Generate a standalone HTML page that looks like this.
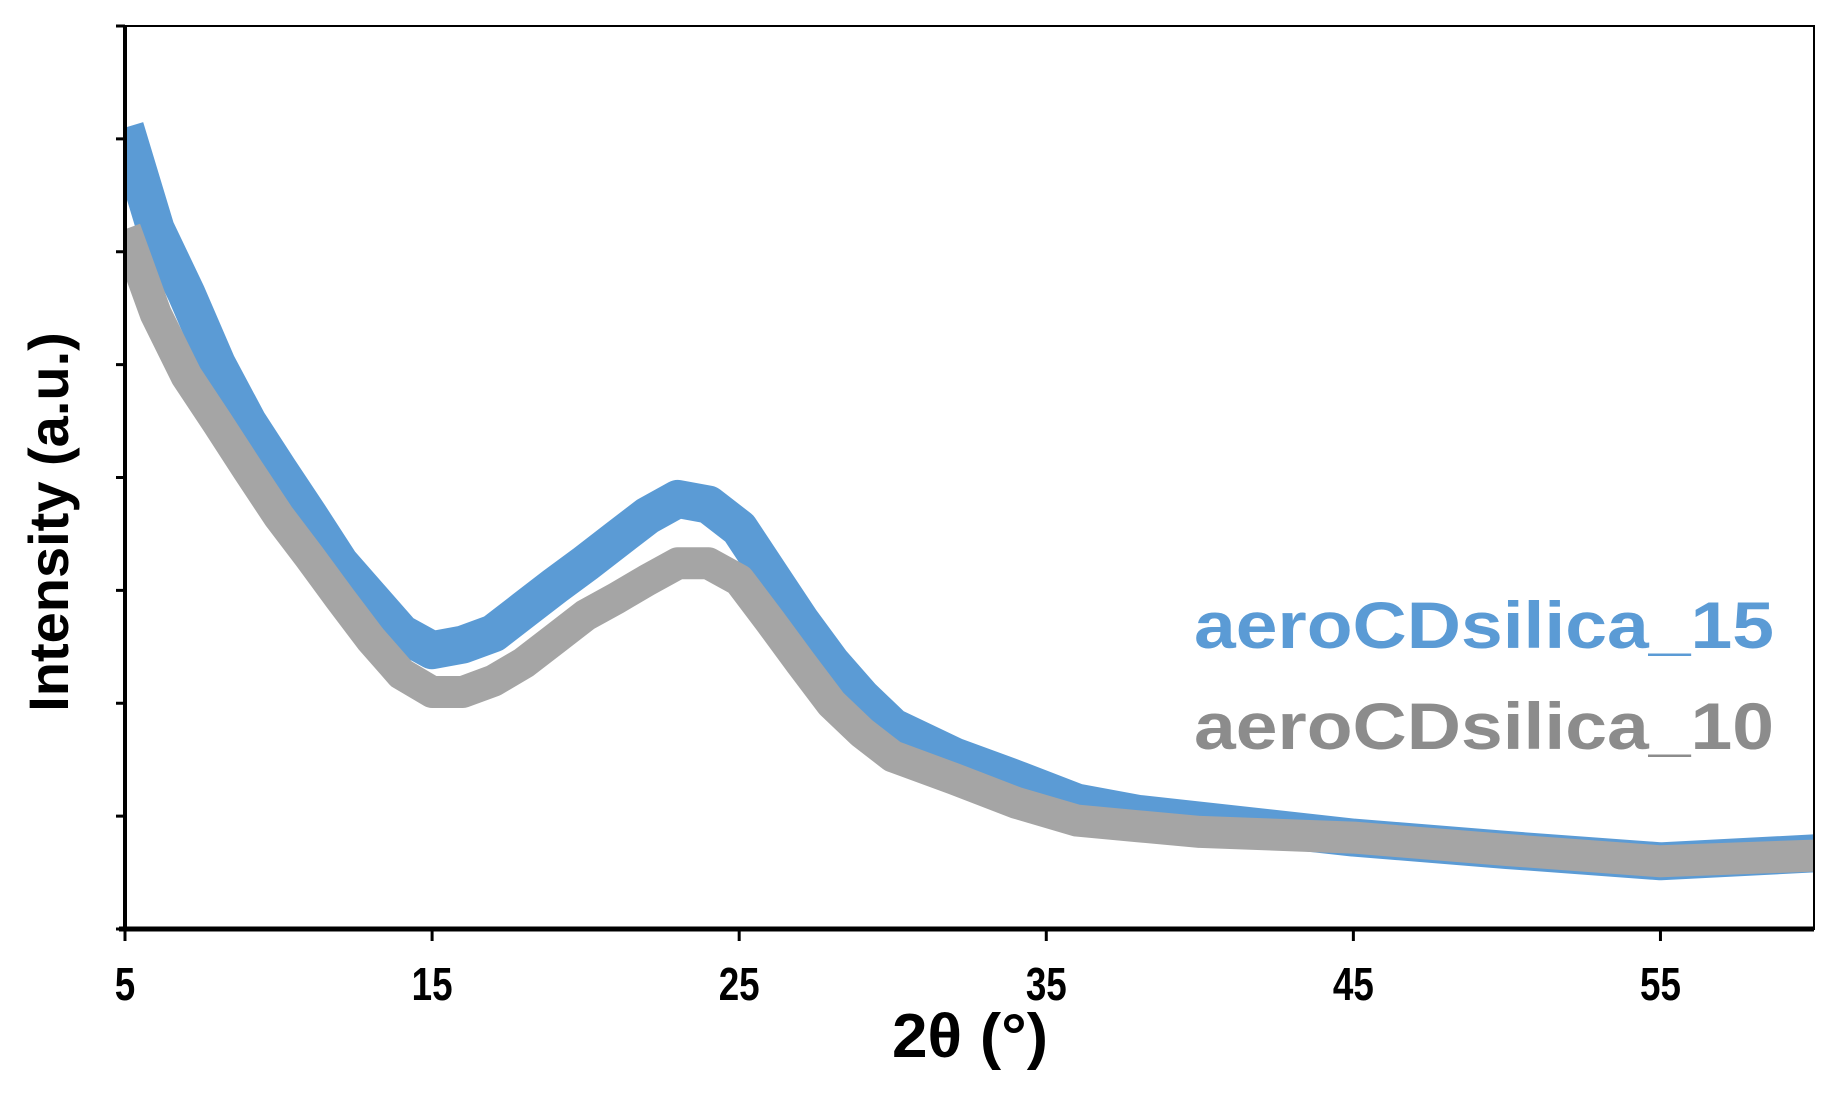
<!DOCTYPE html>
<html><head><meta charset="utf-8"><style>
html,body{margin:0;padding:0;background:#fff;}
svg{display:block;font-family:"Liberation Sans",Arial,sans-serif;font-weight:bold;}
</style></head><body>
<svg id="chart" width="1827" height="1096" viewBox="0 0 1827 1096">
<defs><clipPath id="plotclip"><rect x="125" y="26" width="1689" height="903"/></clipPath></defs>
<g id="series" clip-path="url(#plotclip)"></g>
<g id="axes"></g>
<text x="1194" y="648" textLength="580" lengthAdjust="spacingAndGlyphs" font-size="66" fill="#5B9BD5">aeroCDsilica_15</text>
<text x="1194" y="749" textLength="580" lengthAdjust="spacingAndGlyphs" font-size="66" fill="#8C8C8C">aeroCDsilica_10</text>
<text x="892" y="1057" textLength="156" lengthAdjust="spacingAndGlyphs" font-size="62" fill="#000">2θ (°)</text>
<text transform="translate(68,522) rotate(-90)" text-anchor="middle" font-size="56" fill="#000">Intensity (a.u.)</text>
</svg>
<script>
const xs = [5,6,7,8,9,10,11,12,13,14,15,16,17,18,19,20,21,22,23,24,25,26,27,28,29,30,32,34,36,38,40,45,50,55,60];
const blue = [7.1,6.2,5.63,5.0,4.49,4.07,3.66,3.24,2.93,2.62,2.47,2.52,2.62,2.83,3.04,3.24,3.45,3.66,3.81,3.76,3.55,3.14,2.73,2.36,2.05,1.79,1.53,1.33,1.12,1.02,0.96,0.81,0.70,0.60,0.67];
const gray = [6.2,5.45,4.9,4.49,4.07,3.66,3.3,2.93,2.57,2.26,2.1,2.1,2.2,2.36,2.57,2.78,2.93,3.09,3.24,3.24,3.09,2.73,2.36,2.0,1.74,1.53,1.33,1.12,0.96,0.91,0.86,0.81,0.70,0.60,0.65];
const xTicks = [5,15,25,35,45,55];
const yTicks = [0,1,2,3,4,5,6,7,8];
const L=125,R=1814,T=26,B=929;
const xMin=5,xMax=60,yMin=0,yMax=8;
function sx(v){return L+(v-xMin)/(xMax-xMin)*(R-L);}
function sy(v){return B-(v-yMin)/(yMax-yMin)*(B-T);}
const NS="http://www.w3.org/2000/svg";
const sg=document.getElementById('series'), ag=document.getElementById('axes');
function mk(tag,attrs,parent){const e=document.createElementNS(NS,tag);for(const k in attrs)e.setAttribute(k,attrs[k]);parent.appendChild(e);return e;}
function drawSeries(vals,color,name,w){
  const d=xs.map((x,i)=>(i?'L':'M')+sx(x).toFixed(1)+','+sy(vals[i]).toFixed(1)).join(' ');
  const p=mk('path',{d:d,fill:'none',stroke:color,'stroke-width':w,'stroke-linejoin':'round','stroke-linecap':'butt'},sg);
  
  
}
drawSeries(blue,'#5B9BD5','series-aerocdsilica-15',38);
drawSeries(gray,'#A5A5A5','series-aerocdsilica-10',32);
const frame=mk('rect',{x:L,y:T,width:R-L,height:B-T,fill:'none',stroke:'#000','stroke-width':2},ag);


const yax=mk('line',{x1:L,y1:T,x2:L,y2:B,stroke:'#000','stroke-width':4},ag);


const xax=mk('line',{x1:L-6,y1:B,x2:R,y2:B,stroke:'#000','stroke-width':5},ag);


yTicks.forEach(v=>{
  const t=mk('line',{x1:L-9,y1:sy(v),x2:L,y2:sy(v),stroke:'#000','stroke-width':3},ag);
  
  
});
xTicks.forEach(v=>{
  const t=mk('line',{x1:sx(v),y1:B,x2:sx(v),y2:B+12,stroke:'#000','stroke-width':3},ag);
  
  
  const lb=mk('text',{transform:'translate('+sx(v)+',1000) scale(0.8,1)','text-anchor':'middle','font-size':46,fill:'#000'},ag);
  lb.textContent=v;
  
  
});
</script>
</body></html>
